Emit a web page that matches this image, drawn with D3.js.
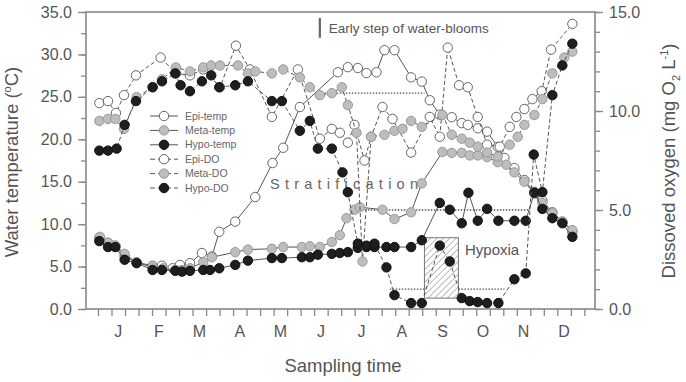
<!DOCTYPE html>
<html>
<head>
<meta charset="utf-8">
<script src="https://cdn.jsdelivr.net/npm/d3@7"></script>
<style>
  body { margin: 0; background: #fff; }
  text { font-family: Arial, "Liberation Sans", sans-serif; }
</style>
</head>
<body>
<div id="chart"></div>
<script>
// sampling day of year, value
var epiTemp = [[1,8.4],[7.5,7.8],[13,7.4],[20,6.2],[29,5.5],[41,5.1],[48,5.1],[56,4.8],[61.5,5.2],[69,5.4],[78,6.6],[85.5,6.2],[91,9.1],[103,10.3],[118,13.2],[131,17.2],[139,19.0],[151.5,23.8],[180,27.9],[187.5,28.5],[195,28.4],[201.5,27.8],[209,27.9],[215,30.5],[222.5,30.5],[235,27.3],[243,26.8],[249,24.6],[256.5,22.9],[265.5,22.6],[273,21.9],[277.5,21.7],[285,21.3],[292,20.9],[300,19.1],[305,17.8],[312.5,16.6],[320,15.2],[327.5,13.8],[333.5,12.8],[341,11.4],[348.5,10.3],[356,9.1]];
var metaTemp = [[1.5,8.5],[7.5,7.8],[13,7.5],[20,6.5],[29,5.5],[41,4.9],[49,4.8],[58,4.6],[63,4.6],[69,4.8],[79,5.5],[85.5,6.1],[103,6.7],[112.5,7.0],[130.5,7.1],[139,7.3],[153,7.3],[159,7.4],[166.5,7.3],[175.5,7.9],[181.5,8.7],[186.5,10.7],[192.5,11.7],[196.5,12.0],[213.5,11.7],[222.5,10.6],[235,11.4],[243,14.8],[258.5,18.5],[265.5,18.4],[273,18.4],[279,18.1],[285,18.1],[292,17.9],[300,17.3],[306.5,17.0],[312.5,16.1],[320,15.0],[327.5,13.6],[333.5,12.5],[341,11.3],[348.5,10.3],[356,9.3]];
var hypoTemp = [[1,8.0],[7.5,7.3],[13,7.3],[20,5.8],[29,5.4],[41,4.6],[48,4.6],[58,4.5],[63,4.4],[69,4.5],[79,4.6],[84,4.6],[91,4.8],[103,5.2],[112.5,5.7],[130.5,6.0],[138,6.0],[153,6.1],[159,6.1],[165,6.4],[175.5,6.5],[181.5,6.6],[187.5,6.7],[195,7.2],[201.5,7.3],[207.5,7.3],[216.5,7.3],[222.5,7.3],[235,7.3],[243,8.1],[256.5,12.5],[264,11.7],[273,10.1],[278,13.7],[285,10.4],[292,11.8],[300.5,10.4],[312.5,10.4],[321,10.4],[327.5,13.7],[333.5,11.8],[341,10.7],[348.5,10.1],[356,8.5]];
var epiDO = [[1,10.4],[7.5,10.5],[13.5,9.9],[19.5,10.8],[28.5,11.8],[47,12.7],[58.5,11.9],[69,11.8],[79,12.1],[91.5,11.2],[103.5,13.3],[114,12.1],[130.5,9.7],[150,12.1],[166.5,8.6],[175.5,9.1],[181.5,8.9],[187.5,8.4],[192.5,9.3],[200,7.5],[205,8.7],[213.5,10.2],[221,9.6],[235,7.9],[249,9.7],[256.5,8.7],[262.5,13.2],[271,11.3],[277.5,11.2],[285,9.7],[292,8.3],[301.5,8.2],[309,9.2],[314,9.7],[320,10.1],[326,10.6],[333,11.0],[340,13.1],[356,14.4]];
var metaDO = [[1,9.5],[7.5,9.6],[13,9.6],[19.5,9.1],[29,10.7],[41,11.2],[48,11.6],[58.5,12.2],[69,12.0],[79,12.2],[85,12.3],[91.5,12.3],[105,12.3],[112.5,11.9],[118,12.0],[130.5,11.9],[139,12.1],[151.5,11.7],[159,11.2],[166.5,10.8],[175.5,10.9],[183,11.2],[187.5,10.3],[194,8.9],[198.5,2.4],[205,8.7],[215,8.8],[222.5,9.0],[228.5,9.1],[235,9.5],[243,9.2],[258.5,9.8],[265.5,8.8],[273,8.6],[279,8.4],[285,8.2],[292,7.9],[300,7.7],[309,8.3],[315,8.7],[320,9.3],[327.5,9.8],[333.5,10.6],[341,11.9],[350,12.7],[356,13.0]];
var hypoDO = [[1,8.0],[7.5,8.0],[14,8.1],[20,9.3],[28.5,10.5],[41,11.2],[48,11.5],[58,11.9],[62,11.3],[69,11.0],[78,11.5],[85,11.8],[91,11.2],[103,11.3],[112.5,11.5],[130.5,10.5],[138,10.5],[151.5,9.0],[159,9.5],[165,8.1],[175.5,8.1],[183.5,6.9],[187.5,5.9],[195,3.3],[201.5,3.2],[207.5,3.3],[216.5,2.1],[222.5,0.7],[235,0.3],[243,0.3],[256.5,3.2],[264,2.4],[273,0.55],[279,0.4],[285,0.35],[292,0.3],[300.5,0.3],[312.5,1.5],[321,1.8],[327,7.8],[333.5,5.9],[341,10.8],[348.5,12.3],[356,13.4]];

var months = ['J','F','M','A','M','J','J','A','S','O','N','D'];
var tempTicks = [0, 5, 10, 15, 20, 25, 30, 35];
var doTicks = [0, 5, 10, 15];

// annotations (day, mg/L)
var dottedLines = [[168, 245, 10.9], [189, 324, 5.0], [219, 245, 1.0], [270.5, 305, 1.0]];
var hypoxiaBox = [245, 270.5, 0.55, 3.6];
var bloomMark = [166.5, 13.7, 14.7];

var width = 686, height = 382;
var plot = {left: 86, right: 595, top: 12, bottom: 309};
var axisColor = '#888', textColor = '#555', lineColor = '#555';

var x = d3.scaleLinear().domain([-9, 373]).range([plot.left, plot.right]);
var yT = d3.scaleLinear().domain([0, 35]).range([plot.bottom, plot.top]);
var yO = d3.scaleLinear().domain([0, 15]).range([plot.bottom, plot.top]);

var svg = d3.select('#chart').append('svg')
    .attr('width', width)
    .attr('height', height);

var pattern = svg.append('defs').append('pattern')
    .attr('id', 'hatch')
    .attr('patternUnits', 'userSpaceOnUse')
    .attr('width', 4.5).attr('height', 4.5)
    .attr('patternTransform', 'rotate(45)');
pattern.append('line')
    .attr('x1', 0).attr('y1', 0).attr('x2', 0).attr('y2', 4.5)
    .attr('stroke', '#777').attr('stroke-width', 1);

// axes
function styleAxis(g) {
    g.select('.domain').remove();
    g.selectAll('line').attr('stroke', axisColor).attr('stroke-width', 1.3);
    g.selectAll('text').attr('fill', textColor).style('font-size', '16px');
}

svg.append('g').attr('transform', `translate(${plot.left},0)`)
    .call(d3.axisLeft(yT).tickValues(d3.range(0, 35.1, 2.5)).tickFormat('').tickSize(5))
    .call(styleAxis);
svg.append('g').attr('transform', `translate(${plot.left},0)`)
    .call(d3.axisLeft(yT).tickValues(tempTicks).tickFormat(d3.format('.1f')).tickSize(8).tickPadding(6))
    .call(styleAxis);

svg.append('g').attr('transform', `translate(${plot.right},0)`)
    .call(d3.axisRight(yO).tickValues(d3.range(0, 15.1, 1)).tickFormat('').tickSize(5))
    .call(styleAxis);
svg.append('g').attr('transform', `translate(${plot.right},0)`)
    .call(d3.axisRight(yO).tickValues(doTicks).tickFormat(d3.format('.1f')).tickSize(8).tickPadding(6))
    .call(styleAxis);

svg.append('g').attr('transform', `translate(0,${plot.bottom})`)
    .call(d3.axisBottom(x).tickValues(d3.range(37).map(function(i) { return i * 365 / 36; })).tickFormat('').tickSize(7))
    .call(styleAxis);

svg.append('g').selectAll('text')
    .data(months)
    .enter()
    .append('text')
    .attr('x', function(d, i) { return x((i + 0.5) * 365 / 12); })
    .attr('y', 337)
    .attr('text-anchor', 'middle')
    .attr('fill', textColor)
    .style('font-size', '16px')
    .text(function(d) { return d; });

svg.append('rect')
    .attr('x', plot.left).attr('y', plot.top)
    .attr('width', plot.right - plot.left).attr('height', plot.bottom - plot.top)
    .attr('fill', 'none').attr('stroke', axisColor).attr('stroke-width', 1.6);

// axis titles
svg.append('text')
    .attr('x', 343).attr('y', 372)
    .attr('text-anchor', 'middle')
    .attr('fill', textColor)
    .style('font-size', '18.5px')
    .text('Sampling time');

var leftTitle = svg.append('text')
    .attr('transform', 'translate(18,162) rotate(-90)')
    .attr('text-anchor', 'middle')
    .attr('fill', textColor)
    .style('font-size', '18.5px');
leftTitle.append('tspan').text('Water temperature (');
leftTitle.append('tspan').attr('dy', -7).style('font-size', '11px').text('o');
leftTitle.append('tspan').attr('dy', 7).text('C)');

var rightTitle = svg.append('text')
    .attr('transform', 'translate(675,161) rotate(-90)')
    .attr('text-anchor', 'middle')
    .attr('fill', textColor)
    .style('font-size', '18.5px');
rightTitle.append('tspan').text('Dissoved oxygen (mg O');
rightTitle.append('tspan').attr('dy', 5).style('font-size', '11px').text('2');
rightTitle.append('tspan').attr('dy', -5).text(' L');
rightTitle.append('tspan').attr('dy', -7).style('font-size', '11px').text('-1');
rightTitle.append('tspan').attr('dy', 7).text(')');

// annotations
svg.append('rect')
    .attr('x', x(hypoxiaBox[0])).attr('y', yO(hypoxiaBox[3]))
    .attr('width', x(hypoxiaBox[1]) - x(hypoxiaBox[0]))
    .attr('height', yO(hypoxiaBox[2]) - yO(hypoxiaBox[3]))
    .attr('fill', 'url(#hatch)').attr('stroke', '#777').attr('stroke-width', 1);

svg.append('g').selectAll('line')
    .data(dottedLines)
    .enter()
    .append('line')
    .attr('x1', function(d) { return x(d[0]); })
    .attr('x2', function(d) { return x(d[1]); })
    .attr('y1', function(d) { return yO(d[2]); })
    .attr('y2', function(d) { return yO(d[2]); })
    .attr('stroke', '#555').attr('stroke-width', 1.3)
    .attr('stroke-dasharray', '1.5,1.5');

svg.append('line')
    .attr('x1', x(bloomMark[0])).attr('x2', x(bloomMark[0]))
    .attr('y1', yO(bloomMark[1])).attr('y2', yO(bloomMark[2]))
    .attr('stroke', '#666').attr('stroke-width', 2.2);

svg.append('text')
    .attr('x', x(bloomMark[0]) + 9).attr('y', 33)
    .attr('fill', textColor)
    .style('font-size', '13.5px')
    .text('Early step of water-blooms');

svg.append('text')
    .attr('x', 270).attr('y', 189)
    .attr('fill', '#666')
    .attr('textLength', 148).attr('lengthAdjust', 'spacing')
    .style('font-size', '14.5px')
    .text('Stratification');

svg.append('text')
    .attr('x', 465).attr('y', 255)
    .attr('fill', textColor)
    .style('font-size', '15px')
    .text('Hypoxia');

// series
var series = [
    { name: 'Epi-temp',  data: epiTemp,  y: yT, fill: '#fff',    stroke: '#666', dash: null },
    { name: 'Meta-temp', data: metaTemp, y: yT, fill: '#bdbdbd', stroke: '#999', dash: null },
    { name: 'Hypo-temp', data: hypoTemp, y: yT, fill: '#1e1e1e', stroke: '#111', dash: null },
    { name: 'Epi-DO',    data: epiDO,    y: yO, fill: '#fff',    stroke: '#666', dash: '4,2.5' },
    { name: 'Meta-DO',   data: metaDO,   y: yO, fill: '#bdbdbd', stroke: '#999', dash: '4,2.5' },
    { name: 'Hypo-DO',   data: hypoDO,   y: yO, fill: '#1e1e1e', stroke: '#111', dash: '4,2.5' }
];

series.forEach(function(s) {
    var line = d3.line()
        .x(function(d) { return x(d[0]); })
        .y(function(d) { return s.y(d[1]); });
    var g = svg.append('g').attr('class', 'series');
    g.append('path')
        .datum(s.data)
        .attr('d', line)
        .attr('fill', 'none')
        .attr('stroke', lineColor)
        .attr('stroke-width', 1)
        .attr('stroke-dasharray', s.dash);
    g.selectAll('circle')
        .data(s.data)
        .enter()
        .append('circle')
        .attr('cx', function(d) { return x(d[0]); })
        .attr('cy', function(d) { return s.y(d[1]); })
        .attr('r', 4.7)
        .attr('fill', s.fill)
        .attr('stroke', s.stroke)
        .attr('stroke-width', 1);
});

// legend
var legend = svg.append('g').attr('transform', 'translate(150,116)');
var rows = legend.selectAll('g')
    .data(series)
    .enter()
    .append('g')
    .attr('transform', function(d, i) { return `translate(0,${i * 14.4})`; });
rows.append('line')
    .attr('x1', 0).attr('x2', 28)
    .attr('stroke', lineColor).attr('stroke-width', 1)
    .attr('stroke-dasharray', function(d) { return d.dash ? '5,3' : null; });
rows.append('circle')
    .attr('cx', 14).attr('r', 4.7)
    .attr('fill', function(d) { return d.fill; })
    .attr('stroke', function(d) { return d.stroke; });
rows.append('text')
    .attr('x', 35).attr('dy', '0.35em')
    .attr('fill', '#666')
    .style('font-size', '10.5px')
    .text(function(d) { return d.name; });
</script>
</body>
</html>
